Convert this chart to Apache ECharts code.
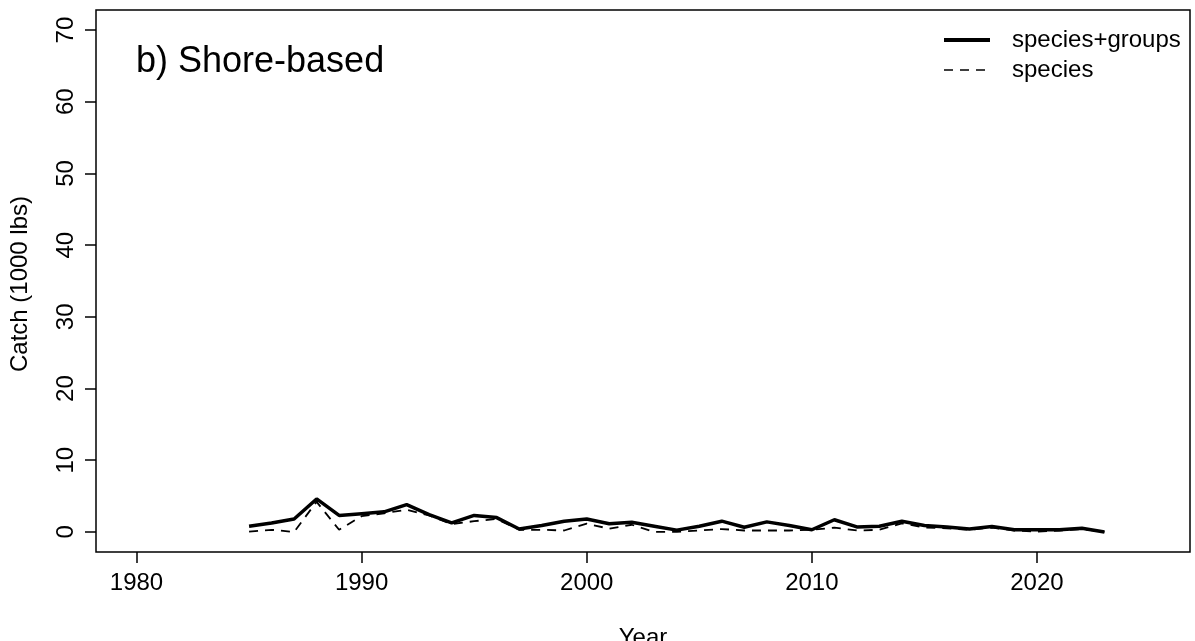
<!DOCTYPE html>
<html>
<head>
<meta charset="utf-8">
<script src="https://cdn.jsdelivr.net/npm/echarts@6/dist/echarts.min.js"></script>
<style>
  html, body { margin: 0; padding: 0; background: #fff; }
  #chart { width: 1195px; height: 641px; }
</style>
</head>
<body>
<div id="chart"></div>
<script>
// data (1000 lbs)
var years = [1985, 1986, 1987, 1988, 1989, 1990, 1991, 1992, 1993, 1994,
  1995, 1996, 1997, 1998, 1999, 2000, 2001, 2002, 2003, 2004,
  2005, 2006, 2007, 2008, 2009, 2010, 2011, 2012, 2013, 2014,
  2015, 2016, 2017, 2018, 2019, 2020, 2021, 2022, 2023];
var speciesGroups = [0.8, 1.25, 1.8, 4.6, 2.3, 2.55, 2.8, 3.8, 2.4, 1.25,
  2.3, 2.0, 0.4, 0.9, 1.5, 1.8, 1.15, 1.35, 0.8, 0.25,
  0.8, 1.5, 0.65, 1.4, 0.9, 0.3, 1.7, 0.7, 0.8, 1.5,
  0.9, 0.7, 0.4, 0.75, 0.3, 0.3, 0.3, 0.5, 0.0];
var species = [0.05, 0.3, 0.0, 4.2, 0.3, 2.2, 2.6, 3.1, 2.3, 1.1,
  1.5, 1.8, 0.3, 0.3, 0.2, 1.15, 0.45, 1.0, 0.0, 0.0,
  0.2, 0.4, 0.2, 0.2, 0.2, 0.3, 0.6, 0.2, 0.3, 1.2,
  0.6, 0.5, 0.3, 0.6, 0.2, 0.05, 0.2, 0.4, 0.0];
var xTicks = [1980, 1990, 2000, 2010, 2020];
var yTicks = [0, 10, 20, 30, 40, 50, 60, 70];

var font = 'Liberation Sans, Arial, sans-serif';

function pairs(vals) {
  return years.map(function (y, i) { return [y, vals[i]]; });
}

var myChart = echarts.init(document.getElementById('chart'));
var option = {
  animation: false,
  backgroundColor: '#fff',
  grid: {
    left: 96, top: 10, right: 5, bottom: 89,
    show: true, borderColor: '#000', borderWidth: 1.5
  },
  legend: {
    orient: 'vertical',
    left: 942, top: 28,
    itemWidth: 46, itemHeight: 14, itemGap: 6, padding: 0,
    itemStyle: { opacity: 0 },
    textStyle: { fontFamily: font, fontSize: 24, color: '#000', lineHeight: 24, padding: [0, 0, 0, 17] },
    data: [
      { name: 'species+groups', lineStyle: { width: 4 } },
      { name: 'species', lineStyle: { width: 1.5 } }
    ]
  },
  xAxis: {
    type: 'value',
    min: 1978.2, max: 2026.8,
    axisLine: { show: false, onZero: false },
    splitLine: { show: false },
    axisTick: { show: true, length: 11, customValues: xTicks, lineStyle: { color: '#000', width: 1.5 } },
    axisLabel: {
      customValues: xTicks, margin: 19, color: '#000', fontSize: 24, fontFamily: font,
      formatter: function (v) { return String(v); }
    }
  },
  yAxis: {
    type: 'value',
    min: -2.8, max: 72.8,
    axisLine: { show: false, onZero: false },
    splitLine: { show: false },
    axisTick: { show: true, length: 11, customValues: yTicks, lineStyle: { color: '#000', width: 1.5 } },
    axisLabel: {
      customValues: yTicks, rotate: 90, margin: 18, color: '#000', fontSize: 24, fontFamily: font,
      formatter: function (v) { return String(v); }
    }
  },
  graphic: [
    { type: 'text', x: 136, y: 62,
      style: { text: 'b) Shore-based', fontSize: 36, fontFamily: font, fill: '#000', align: 'left', verticalAlign: 'middle' } },
    { type: 'text', x: 643, y: 638,
      style: { text: 'Year', fontSize: 24, fontFamily: font, fill: '#000', align: 'center', verticalAlign: 'middle' } },
    { type: 'text', x: 20, y: 284, rotation: Math.PI / 2,
      style: { text: 'Catch (1000 lbs)', fontSize: 24, fontFamily: font, fill: '#000', align: 'center', verticalAlign: 'middle' } }
  ],
  series: [
    {
      name: 'species+groups', type: 'line', symbol: 'none',
      data: pairs(speciesGroups),
      lineStyle: { color: '#000', width: 3.5 },
      itemStyle: { color: '#000' }
    },
    {
      name: 'species', type: 'line', symbol: 'none',
      data: pairs(species),
      lineStyle: { color: '#000', width: 1.8, type: [9, 7] },
      itemStyle: { color: '#000' }
    }
  ]
};
myChart.setOption(option);
</script>
</body>
</html>
